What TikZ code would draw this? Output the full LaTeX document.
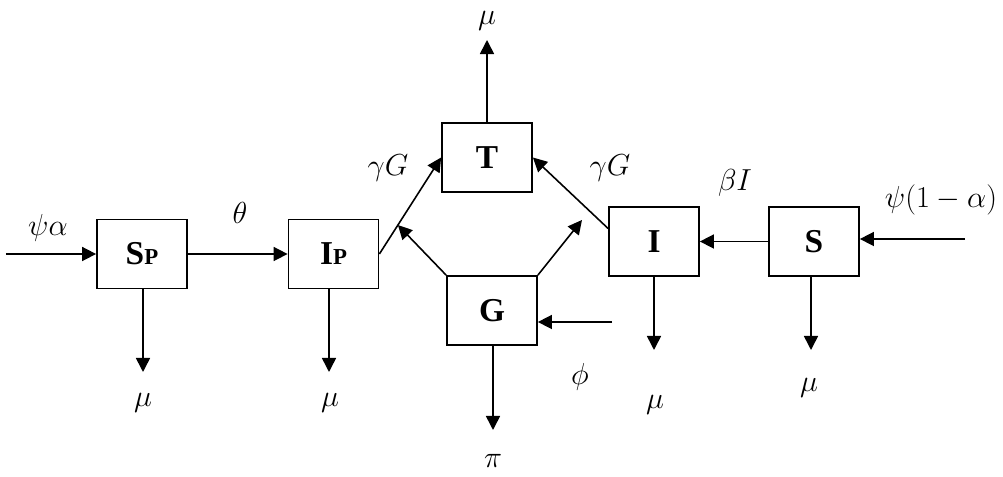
\documentclass[tikz,border=0pt]{standalone}
\usepackage{fontspec}
\setmainfont{Liberation Serif}
\usepackage{tikz}
\usetikzlibrary{arrows.meta,positioning,calc}
\newcommand{\smallP}{{\fontsize{13}{13}\selectfont P}}

\begin{document}
\begin{tikzpicture}[
  box/.style={draw,line width=1pt,minimum width=1.8cm,minimum height=1.38cm,
              inner sep=0pt,font=\fontsize{19}{19}\selectfont\bfseries},
  arrow/.style={-{Triangle[length=8pt,width=8pt]},line width=0.9pt},
  rate/.style={font=\fontsize{18}{20}\selectfont,inner sep=0pt}]

  \useasboundingbox (0,0) rectangle (20.06,-9.54);

  % Compartments
  \node[box] (sp) at (2.84,-5.08) {S\smallP};
  \node[box] (ip) at (6.67,-5.08) {I\smallP};
  \node[box] (t) at (9.74,-3.15) {T};
  \node[box] (g) at (9.84,-6.21) {G};
  \node[box] (i) at (13.08,-4.83) {I};
  \node[box] (s) at (16.28,-4.83) {S};

  % Free ends
  \coordinate (inleft) at (0.12,-5.08);
  \coordinate (inright) at (19.3,-4.78);
  \coordinate (phiin) at (12.24,-6.44);
  \coordinate (ipt) at ($(ip.east)!0.3!(t.west)$);
  \coordinate (itt) at (11.64,-4.4);
  \coordinate (spout) at (2.86,-7.44);
  \coordinate (ipout) at (6.58,-7.44);
  \coordinate (tout) at (9.74,-0.8);
  \coordinate (gout) at (9.86,-8.6);
  \coordinate (iout) at (13.08,-7.0);
  \coordinate (sout) at (16.22,-7.0);

  % Flows between compartments
  \draw[arrow] (inleft) -- (sp.west);
  \draw[arrow] (sp.east) -- (ip.west);
  \draw[arrow] (ip.east) -- (t.west);
  \draw[arrow] ([yshift=0.26cm]i.west) -- (t.east);
  \draw[arrow] (s.west) -- (i.east);
  \draw[arrow] (inright) -- (inright -| s.east);
  \draw[arrow] (g.north west) -- (ipt);
  \draw[arrow] (g.north east) -- (itt);
  \draw[arrow] (phiin) -- (phiin -| g.east);

  % Outflows
  \draw[arrow] (sp.south -| spout) -- (spout);
  \draw[arrow] (ip.south -| ipout) -- (ipout);
  \draw[arrow] (t.north) -- (tout);
  \draw[arrow] (g.south -| gout) -- (gout);
  \draw[arrow] (i.south -| iout) -- (iout);
  \draw[arrow] (s.south -| sout) -- (sout);

  % Rates
  \node[rate] (lpsia) at (0.96,-4.56) {$\psi\alpha$};
  \node[rate] (ltheta) at (4.8,-4.26) {$\theta$};
  \node[rate] (lgl) at (7.76,-3.36) {$\gamma G$};
  \node[rate] (lgr) at (12.2,-3.36) {$\gamma G$};
  \node[rate] (lbeta) at (14.7,-3.66) {$\beta I$};
  \node[rate] (lpsi) at (18.82,-4.0) {$\psi(1-\alpha)$};
  \node[rate] (lphi) at (11.6,-7.54) {$\phi$};
  \node[rate] (lmu1) at (2.86,-8.05) {$\mu$};
  \node[rate] (lmu2) at (6.6,-8.05) {$\mu$};
  \node[rate] (lmu3) at (9.74,-0.42) {$\mu$};
  \node[rate] (lpi) at (9.86,-9.22) {$\pi$};
  \node[rate] (lmu4) at (13.1,-8.1) {$\mu$};
  \node[rate] (lmu5) at (16.18,-7.76) {$\mu$};

\end{tikzpicture}
\end{document}
